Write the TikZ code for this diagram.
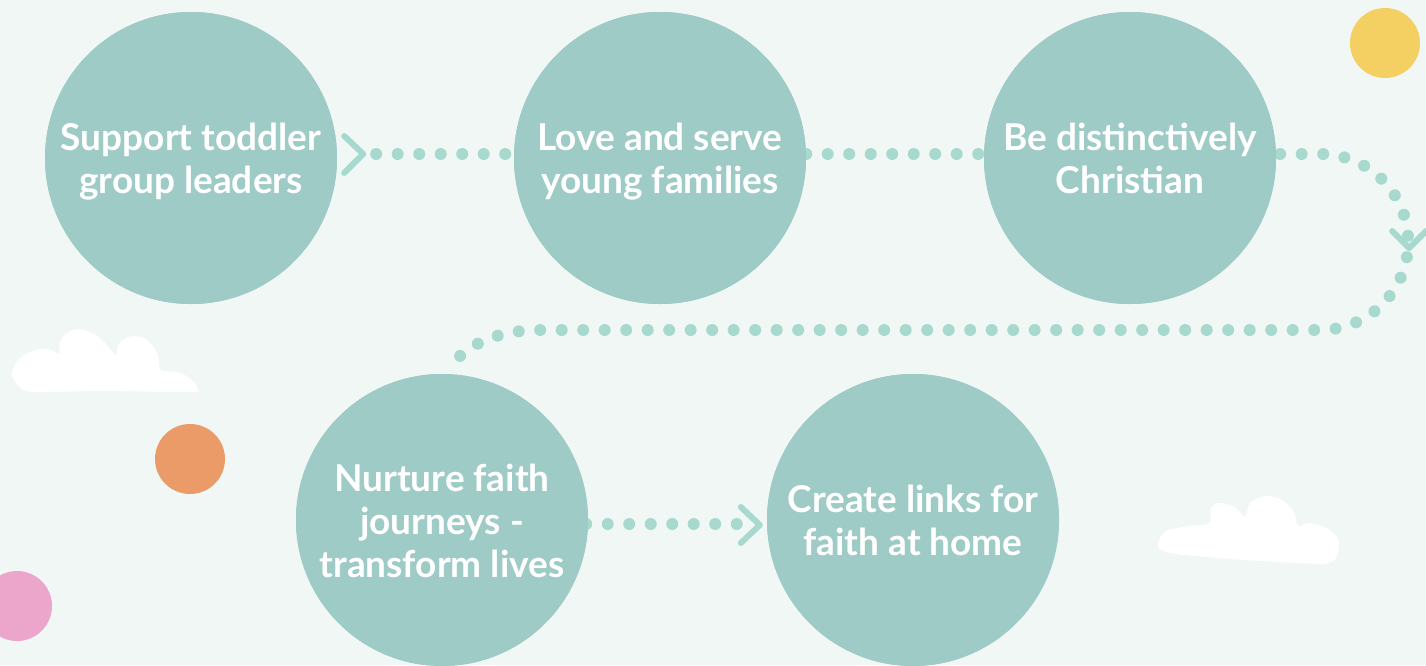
\documentclass[tikz,border=0pt]{standalone}
\usepackage{fontspec}
\setmainfont{Lato}
\definecolor{bgc}{HTML}{F1F7F5}
\definecolor{circc}{HTML}{9ECBC6}
\definecolor{dotc}{HTML}{A8D9CF}
\definecolor{yel}{HTML}{F4D062}
\definecolor{ora}{HTML}{EA9B67}
\definecolor{pnk}{HTML}{EDA6CB}
\newcommand\ftop{\rule{0pt}{36pt}}
\newcommand\fbot{\rule[-8pt]{0pt}{8pt}}
\tikzset{
  stepcirc/.style={circle, fill=circc, minimum size=292pt, inner sep=0pt, text=white,
    align=center, font=\bfseries\fontsize{37}{43}\selectfont},
  dotline/.style={draw=dotc, line width=12pt, line cap=round, dash pattern=on 0pt off 21.5pt},
  chev/.style={draw=dotc, line width=6pt, line cap=round, line join=round},
  cloud/.style={fill=white},
  blob/.style={circle, minimum size=70pt, inner sep=0pt}
}
\begin{document}
\begin{tikzpicture}[x=1pt,y=-1pt]
\fill[bgc] (0,0) rectangle (1426,665);
\useasboundingbox (0,0) rectangle (1426,665);
% clouds
\fill[cloud] plot[smooth cycle, tension=0.55] coordinates {(12,372) (22,356) (40,349) (52,350) (59,354) (61,340) (72,330) (85,330) (100,338) (110,349) (116,355) (118,345) (128,337) (142,337) (152,345) (158,356) (161,370) (178,372) (192,380) (197,388) (190,392) (100,391) (32,392) (18,385)};
\fill[cloud] plot[smooth cycle, tension=0.55] coordinates {(1158,545) (1166,531) (1190,526) (1209,523) (1211,508) (1220,503) (1235,507) (1245,517) (1250,503) (1265,496) (1282,500) (1294,512) (1298,526) (1310,523) (1330,530) (1339,543) (1332,562) (1300,563) (1230,559) (1170,553)};
% coloured blobs
\node[blob, fill=yel] (ye) at (1385,43) {};
\node[blob, fill=ora] (or) at (190,459) {};
\node[blob, fill=pnk] (pk) at (17,606) {};
% circles (positions)
\path (191,158) coordinate (p1) (660,158) coordinate (p2) (1130,158) coordinate (p3)
      (442,520) coordinate (p4) (913,520) coordinate (p5);
\path (p1) node[stepcirc] (c1) {} (p2) node[stepcirc] (c2) {} (p3) node[stepcirc] (c3) {}
      (p4) node[stepcirc] (c4) {} (p5) node[stepcirc] (c5) {};
% connectors
\path[dotline] ([shift={(39,-4)}]c1.east) -- ([shift={(-8,-4)}]c2.west);
\draw[chev] ([shift={(7,-22)}]c1.east) -- ++(19,18) -- ++(-19,19);
\path[dotline] ([shift={(0,-4)}]c2.east) -- ([shift={(-5,-4)}]c3.west);
\path[dotline] ([shift={(4,-4)}]c3.east) -- ++(40,0)
   .. controls ++(48.6,0) and ++(0,-48.6) .. ++(88,88)
   .. controls ++(0,48.6) and ++(48.6,0) .. ++(-88,88)
   -- ++(-780,0) .. controls ++(-40,0) and ++(17,-18) .. ([shift={(13,-13)}]c4.north);
\draw[chev] ([shift={(116,73)}]c3.east) -- ++(17,17) -- ++(17,-17);
\path[dotline] ([shift={(-2,4)}]c4.east) -- ([shift={(-30,4)}]c5.west);
\draw[chev] ([shift={(-26,-13)}]c5.west) -- ++(19,18) -- ++(-19,18);
% redraw circles on top of dots
\path (p1) node[stepcirc] (t1) {\ftop Support toddler\\group leaders\fbot}
      (p2) node[stepcirc] (t2) {\ftop Love and serve\\young families\fbot}
      (p3) node[stepcirc] (t3) {\ftop Be distinctively\\Christian\fbot}
      (p4) node[stepcirc] (t4) {\ftop Nurture faith\\journeys -\\transform lives\fbot}
      (p5) node[stepcirc] (t5) {\ftop Create links for\\faith at home\fbot};
\end{tikzpicture}
\end{document}
